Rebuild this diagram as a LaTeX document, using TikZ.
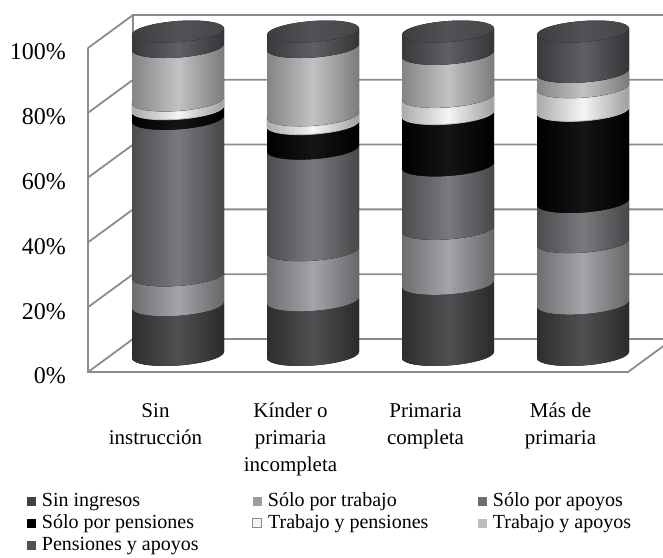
\documentclass[tikz,border=0pt]{standalone}
\usepackage{fontspec}
\setmainfont{Liberation Serif}
\usetikzlibrary{positioning}

\definecolor{seg1}{HTML}{3F4143}
\definecolor{seg2}{HTML}{9B9DA0}
\definecolor{seg3}{HTML}{6C6E71}
\definecolor{seg4}{HTML}{000000}
\definecolor{seg5}{HTML}{F4F4F4}
\definecolor{seg6}{HTML}{BBBDBF}
\definecolor{seg7}{HTML}{505255}
\definecolor{gridgray}{HTML}{8C8C8C}

\begin{document}
\begin{tikzpicture}[x=1pt, y=1pt,
        gridline/.style={draw=gridgray, line width=1.8pt},
        ticklab/.style={anchor=east, inner sep=0pt, font=\fontsize{24}{28}\selectfont},
        catlab/.style={anchor=north, align=center, inner sep=0pt, font=\fontsize{21}{27}\selectfont},
        swatch/.style={minimum size=9pt, inner sep=0pt},
        legtext/.style={inner sep=0pt, text height=14pt, text depth=4pt, font=\fontsize{20}{22}\selectfont},
        band/.style={left color=#1!70!black, right color=#1!65!black, middle color=#1!92!white}]
    \useasboundingbox (0,0) rectangle (663,557);
    \clip (0,0) rectangle (663,557);
    % walls and gridlines
    \foreach \k/\lab in {0/0, 1/20, 2/40, 3/60, 4/80, 5/100} {
        \draw[gridline] (88,185+64.8*\k) -- (133,218+64.8*\k) -- (680,218+64.8*\k);
        \node[ticklab] (t\k) at (66,181+64.8*\k) {\lab\%};
    }
    \draw[gridline] (88,509) -- (88,185) -- (628,185) -- (673,218);
    \draw[gridline] (133,542) -- (133,218);
    % cylinders
    \foreach \cx/\vals in {178/{15.4,24.6,73.0,76.1,78.7,95.2,100},
            313/{16.9,32.4,63.8,71.5,74.1,95.2,100},
            448/{22.0,39.0,58.6,74.6,79.8,93.1,100},
            583/{15.9,34.9,47.3,75.6,82.8,87.5,100}} {
        \begin{scope}[shift={(\cx,202)}, yslant=0.07]
            \foreach \hi [count=\k, remember=\hi as \lo (initially 0)] in \vals {
                \fill[band=seg\k] (-46,3.235*\lo)
                    arc[start angle=180, end angle=360, x radius=46, y radius=10.5]
                    -- (46,3.235*\hi)
                    arc[start angle=0, end angle=-180, x radius=46, y radius=10.5] -- cycle;
                \ifnum\k=5
                    \draw[gray!55, line width=0.8pt] (-46,3.235*\lo)
                        arc[start angle=180, end angle=360, x radius=46, y radius=10.5]
                        -- (46,3.235*\hi)
                        arc[start angle=0, end angle=-180, x radius=46, y radius=10.5] -- cycle;
                \fi
            }
            \fill[left color=seg7!75!black, right color=seg7!85!black, middle color=seg7]
                (0,323.5) ellipse [x radius=46, y radius=10.5];
        \end{scope}
    }
    % category labels
    \node[catlab] (c1) at (155.5,154) {Sin\\instrucción};
    \node[catlab] (c2) at (290.5,154) {Kínder o\\primaria\\incompleta};
    \node[catlab] (c3) at (425.5,154) {Primaria\\completa};
    \node[catlab] (c4) at (560.5,154) {Más de\\primaria};
    % legend
    \node[swatch, fill=seg1] (sw1) at (31,56) {};
    \node[legtext, right=6pt of sw1] (lg1) {Sin ingresos};
    \node[swatch, fill=seg2] (sw2) at (257,56) {};
    \node[legtext, right=6pt of sw2] (lg2) {Sólo por trabajo};
    \node[swatch, fill=seg3] (sw3) at (482,56) {};
    \node[legtext, right=6pt of sw3] (lg3) {Sólo por apoyos};
    \node[swatch, fill=seg4] (sw4) at (31,34) {};
    \node[legtext, right=6pt of sw4] (lg4) {Sólo por pensiones};
    \node[swatch, fill=seg5, draw=gridgray, line width=0.8pt] (sw5) at (257,34) {};
    \node[legtext, right=6pt of sw5] (lg5) {Trabajo y pensiones};
    \node[swatch, fill=seg6] (sw6) at (482,34) {};
    \node[legtext, right=6pt of sw6] (lg6) {Trabajo y apoyos};
    \node[swatch, fill=seg7] (sw7) at (31,12) {};
    \node[legtext, right=6pt of sw7] (lg7) {Pensiones y apoyos};
\end{tikzpicture}
\end{document}
